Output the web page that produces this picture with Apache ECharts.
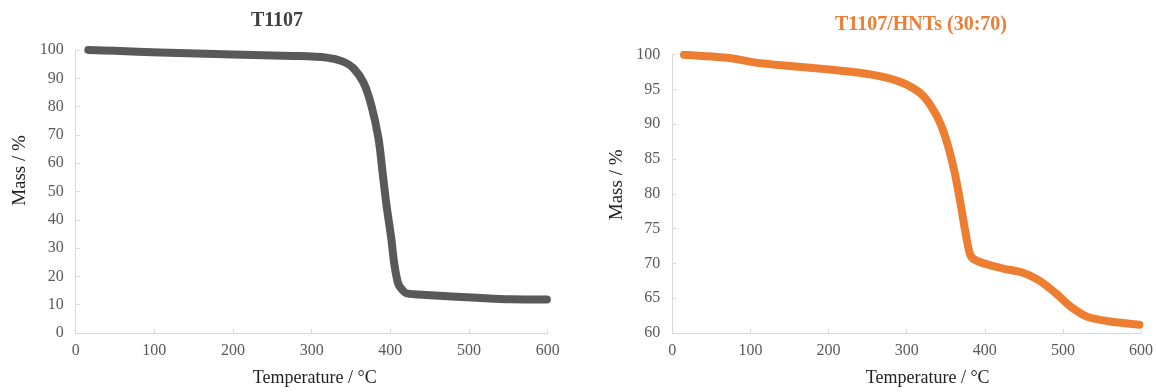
<!DOCTYPE html>
<html>
<head>
<meta charset="utf-8">
<script src="https://cdn.jsdelivr.net/npm/echarts@6/dist/echarts.min.js"></script>
<style>
  html, body { margin: 0; padding: 0; background: #fff; }
  #chart { width: 1156px; height: 392px; }
</style>
</head>
<body>
<div id="chart"></div>
<script>
// TGA curves: [temperature °C, mass %]
var neatTemps = [16, 50, 107, 200, 277, 319, 340, 353, 366, 376, 385, 390, 395, 401, 405, 410, 416, 421, 446, 510, 552, 599];
var neatMass  = [100, 99.7, 99.1, 98.4, 97.9, 97.3, 95.9, 93.6, 88.4, 80.2, 68.6, 57, 45.3, 33.7, 24.4, 17.4, 15, 14, 13.4, 12.45, 11.9, 11.85];

var blendTemps = [15, 75, 105, 147, 198, 240, 274, 300, 321, 338, 350, 361, 369, 376, 382, 391, 422, 448, 469, 490, 511, 532, 558, 598];
var blendMass  = [100, 99.5, 98.9, 98.4, 97.9, 97.4, 96.7, 95.7, 94.1, 91.3, 88.0, 83.3, 78.6, 74.0, 71.1, 70.3, 69.3, 68.7, 67.6, 65.8, 63.7, 62.3, 61.7, 61.2];

var tempTicks = [0, 100, 200, 300, 400, 500, 600];
var neatTitle = 'T1107';
var blendTitle = 'T1107/HNTs (30:70)';

function pairs(xs, ys) {
  return xs.map(function (x, i) { return [x, ys[i]]; });
}

var serif = '"Liberation Serif", "Times New Roman", serif';
var axisGray = '#d9d9d9';
var labelGray = '#595959';

function xAxisFor(gridIndex, namePad) {
  return {
    type: 'value', gridIndex: gridIndex,
    min: tempTicks[0], max: tempTicks[tempTicks.length - 1], interval: 100,
    name: 'Temperature / °C', nameLocation: 'middle', nameGap: 36,
    nameTextStyle: { fontFamily: serif, fontSize: 18, color: '#222', padding: [0, 0, 0, namePad] },
    axisLine: { show: true, lineStyle: { color: axisGray, width: 1 } },
    axisTick: { show: true, inside: true, length: 4, lineStyle: { color: axisGray } },
    axisLabel: { fontFamily: serif, fontSize: 16, color: labelGray, margin: 10 },
    splitLine: { show: false }
  };
}

function yAxisFor(gridIndex, min, max, interval, namePad) {
  return {
    type: 'value', gridIndex: gridIndex,
    min: min, max: max, interval: interval,
    name: 'Mass / %', nameLocation: 'middle', nameGap: 46,
    nameTextStyle: { fontFamily: serif, fontSize: 19, color: '#222', padding: [0, 0, 0, namePad] },
    axisLine: { show: true, lineStyle: { color: axisGray, width: 1 } },
    axisTick: { show: true, inside: true, length: 4, lineStyle: { color: axisGray } },
    axisLabel: { fontFamily: serif, fontSize: 16, color: labelGray, margin: 12 },
    splitLine: { show: false }
  };
}

var chart = echarts.init(document.getElementById('chart'));
var option = {
  backgroundColor: '#fff',
  animation: false,
  title: [
    {
      text: neatTitle, left: 277, top: 11, textAlign: 'center', padding: 0,
      textStyle: { fontFamily: serif, fontSize: 20, fontWeight: 'bold', color: '#404040' }
    },
    {
      text: blendTitle, left: 921, top: 15, textAlign: 'center', padding: 0,
      textStyle: { fontFamily: serif, fontSize: 20, fontWeight: 'bold', color: '#ED7D31' }
    }
  ],
  grid: [
    { left: 75.7, right: 608.3, top: 50, bottom: 55.3 },
    { left: 672.3, right: 11, top: 54.7, bottom: 52.7 }
  ],
  xAxis: [xAxisFor(0, 6), xAxisFor(1, 42)],
  yAxis: [yAxisFor(0, 0, 100, 10, 42), yAxisFor(1, 60, 100, 5, 18)],
  series: [
    {
      type: 'line', xAxisIndex: 0, yAxisIndex: 0,
      data: pairs(neatTemps, neatMass),
      smooth: 0.3, showSymbol: false,
      lineStyle: { color: '#595959', width: 8, cap: 'round', join: 'round' }
    },
    {
      type: 'line', xAxisIndex: 1, yAxisIndex: 1,
      data: pairs(blendTemps, blendMass),
      smooth: 0.3, showSymbol: false,
      lineStyle: { color: '#ED7D31', width: 8, cap: 'round', join: 'round' }
    }
  ]
};
option && chart.setOption(option);
</script>
</body>
</html>
